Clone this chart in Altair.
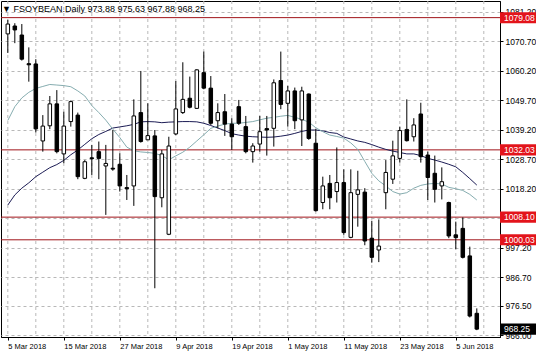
import altair as alt
import pandas as pd

# ---- data ----
opens = [1073.3, 1076.1, 1072.9, 1062.7, 1062.6, 1035.2, 1040.6, 1048.4, 1030.6, 1042.1,
         1044.4, 1021.9, 1029.2, 1031.4, 1026.3, 1025.5, 1026.9, 1018.6, 1019.2, 1045.3,
         1035.6, 1037.0, 1015.0, 1002.0, 1037.7, 1045.3, 1050.4, 1046.8, 1059.5, 1054.0,
         1042.4, 1045.6, 1041.2, 1047.4, 1040.3, 1031.4, 1034.1, 1039.6, 1039.7, 1056.7,
         1048.6, 1053.0, 1042.7, 1051.9, 1034.4, 1013.3, 1020.1, 1017.2, 1020.4, 1000.9,
         1016.2, 1017.0, 1000.6, 996.4, 1016.8, 1021.6, 1029.0, 1039.3, 1036.7, 1044.8,
         1030.2, 1023.7, 1019.2, 1013.3, 1001.8, 1004.1, 994.3, 973.88]
highs = [1078.3, 1077.1, 1076.8, 1068.5, 1064.3, 1044.4, 1051.2, 1053.3, 1045.6, 1049.6,
         1045.3, 1028.4, 1033.8, 1035.0, 1033.8, 1039.1, 1030.8, 1023.1, 1050.0, 1060.1,
         1048.6, 1039.1, 1032.0, 1036.7, 1056.5, 1063.2, 1058.1, 1060.7, 1067.0, 1058.3,
         1048.6, 1051.9, 1043.3, 1049.8, 1044.1, 1034.4, 1044.1, 1044.1, 1057.1, 1067.0,
         1054.8, 1054.2, 1054.5, 1052.1, 1039.4, 1022.5, 1023.1, 1032.9, 1025.1, 1025.1,
         1024.6, 1018.4, 1006.8, 1007.3, 1028.4, 1035.3, 1040.3, 1050.0, 1043.3, 1048.8,
         1031.4, 1030.0, 1025.8, 1013.6, 1006.5, 1008.0, 997.6, 975.63]
lows = [1066.5, 1070.0, 1063.8, 1056.3, 1038.2, 1031.4, 1039.4, 1030.8, 1027.3, 1040.3,
        1021.6, 1021.6, 1023.1, 1021.6, 1008.9, 1024.6, 1017.2, 1014.2, 1012.1, 1034.6,
        1035.6, 982.8, 1011.6, 1001.7, 1037.3, 1044.8, 1046.8, 1046.6, 1053.6, 1040.9,
        1039.7, 1037.0, 1032.0, 1040.9, 1030.8, 1027.5, 1031.4, 1030.0, 1033.2, 1046.5,
        1040.3, 1039.4, 1033.4, 1035.6, 1010.1, 1010.9, 1010.9, 1013.3, 1001.8, 1000.6,
        1004.7, 998.1, 991.9, 992.1, 1010.9, 1019.9, 1027.5, 1035.0, 1035.0, 1027.5,
        1014.2, 1013.3, 1014.4, 1000.6, 996.7, 993.4, 972.4, 967.88]
closes = [1076.8, 1074.7, 1064.3, 1062.3, 1039.5, 1040.5, 1048.4, 1031.4, 1040.5, 1049.2,
          1022.5, 1027.8, 1028.9, 1029.0, 1027.2, 1025.2, 1019.2, 1018.2, 1044.1, 1035.0,
          1037.1, 1015.4, 1030.6, 1033.4, 1046.6, 1050.0, 1047.2, 1060.5, 1054.0, 1041.5,
          1045.3, 1041.2, 1036.7, 1041.5, 1031.4, 1033.4, 1038.5, 1039.1, 1055.9, 1048.2,
          1053.0, 1042.4, 1053.0, 1036.1, 1010.4, 1019.2, 1015.0, 1020.4, 1002.6, 1016.8,
          1017.8, 999.6, 993.8, 997.8, 1024.0, 1029.9, 1038.9, 1035.3, 1040.9, 1029.6,
          1022.2, 1018.0, 1020.7, 1001.4, 1000.8, 993.8, 972.9, 968.25]
ma_fast = [1042.5, 1047.4, 1050.5, 1052.5, 1053.9, 1054.6, 1055.3, 1055.1, 1054.9, 1054.5,
           1053.0, 1051.2, 1047.8, 1045.3, 1042.6, 1039.4, 1036.4, 1033.0, 1031.7, 1031.3,
           1031.1, 1030.8, 1030.0, 1028.5, 1029.9, 1031.2, 1033.0, 1035.2, 1037.4, 1039.7,
           1040.5, 1041.2, 1041.5, 1041.5, 1041.8, 1042.1, 1042.7, 1043.3, 1043.6, 1044.0,
           1044.3, 1043.6, 1042.9, 1041.9, 1039.9, 1038.5, 1037.3, 1036.8, 1036.2, 1034.5,
           1032.2, 1027.9, 1023.7, 1021.0, 1019.2, 1017.2, 1016.3, 1016.8, 1018.4, 1019.4,
           1019.9, 1020.1, 1019.9, 1018.7, 1018.2, 1017.6, 1016.2, 1014.2]
ma_slow = [1012.4, 1016.0, 1018.4, 1020.3, 1022.5, 1024.1, 1025.7, 1026.8, 1028.3, 1030.3,
           1032.0, 1034.0, 1036.0, 1037.5, 1038.6, 1039.8, 1040.2, 1040.6, 1041.1, 1042.0,
           1042.1, 1042.0, 1041.7, 1041.9, 1042.0, 1042.1, 1042.1, 1042.0, 1041.5, 1040.7,
           1039.8, 1038.9, 1037.8, 1037.3, 1036.9, 1036.7, 1036.6, 1036.5, 1036.6, 1036.9,
           1037.3, 1037.9, 1038.6, 1039.1, 1039.1, 1038.8, 1038.2, 1037.9, 1036.6, 1035.9,
           1035.2, 1034.7, 1033.9, 1033.0, 1032.2, 1031.6, 1031.1, 1030.6, 1030.6, 1030.0,
           1029.0, 1028.4, 1027.7, 1026.9, 1026.0, 1024.0, 1021.8, 1019.5]

level_prices = [1079.08, 1032.03, 1008.10, 1000.03]
level_labels = ["1079.08", "1032.03", "1008.10", "1000.03"]
last_price = [968.25]
last_label = ["968.25"]
y_ticks = [966.00, 976.50, 986.70, 997.20, 1007.70, 1018.20, 1028.70, 1039.20,
           1049.70, 1060.20, 1070.70, 1081.20]
x_label_idx = [0, 8, 16, 24, 32, 40, 48, 56, 64]
x_labels = ["5 Mar 2018", "15 Mar 2018", "27 Mar 2018", "9 Apr 2018", "19 Apr 2018",
            "1 May 2018", "11 May 2018", "23 May 2018", "5 Jun 2018"]
x_grid_idx = [0, 4, 8, 12, 16, 20, 24, 28, 32, 36, 40, 44, 48, 52, 56, 60, 64, 68]
header = "\u25bc FSOYBEAN.Daily  973.88 975.63 967.88 968.25"

FONT = "Liberation Sans"

n = len(opens)
df = pd.DataFrame({"i": list(range(n)), "open": opens, "high": highs, "low": lows,
                   "close": closes, "fast": ma_fast, "slow": ma_slow})
df["top"] = df[["open", "close"]].max(axis=1)
df["bot"] = df[["open", "close"]].min(axis=1)
df["dir"] = ["up" if c >= o else "down" for o, c in zip(opens, closes)]

levels = pd.DataFrame({"p": level_prices, "lab": level_labels})
last = pd.DataFrame({"p": last_price, "lab": last_label})
grid = pd.DataFrame({"g": x_grid_idx})

xs = alt.Scale(domain=[-0.26, 69.6], nice=False, zero=False)
ys = alt.Scale(domain=[965.45, 1085.0], nice=False, zero=False)

label_arr = "[" + ",".join("'%s'" % s for s in x_labels) + "]"
xaxis = alt.Axis(values=x_label_idx, labelExpr=label_arr + "[round(datum.value/8)]",
                 title=None, grid=False, labelAlign="left", labelFont=FONT,
                 labelFontSize=7.5, labelColor="black", tickSize=3, tickColor="black",
                 labelPadding=2, labelOverlap=False, labelFlush=False,
                 domainColor="black")
yaxis = alt.Axis(orient="right", values=y_ticks, format=".2f", title=None,
                 labelFont=FONT, labelFontSize=8.5, labelColor="black", tickSize=3,
                 tickColor="black", domainColor="black", labelPadding=2,
                 grid=True, gridColor="#b8b8b8", gridDash=[3, 3],
                 labelOverlap=False, labelFlush=False, labelBound=False)


def X(f):
    return alt.X(f, type="quantitative", scale=xs, axis=xaxis)


def Y(f):
    return alt.Y(f, type="quantitative", scale=ys, axis=yaxis)


vgrid = alt.Chart(grid).mark_rule(color="#b8b8b8", strokeDash=[3, 3], strokeWidth=1).encode(
    x=X("g"))

base = alt.Chart(df)
wicks = base.mark_rule(color="black", strokeWidth=1).encode(x=X("i"), y=Y("low"), y2="high")
bodies = base.mark_bar(size=3.5, stroke="black", strokeWidth=1).encode(
    x=X("i"), y=Y("bot"), y2="top",
    color=alt.Color("dir:N", scale=alt.Scale(domain=["up", "down"], range=["white", "black"]),
                    legend=None))
fast_line = base.mark_line(color="#86adb0", strokeWidth=1).encode(x=X("i"), y=Y("fast"))
slow_line = base.mark_line(color="#1c1c55", strokeWidth=1).encode(x=X("i"), y=Y("slow"))

lvl = alt.Chart(levels)
lvl_rules = lvl.mark_rule(color="#a0141a", strokeWidth=1).encode(y=Y("p"))
lvl_boxes = lvl.mark_rect(color="#e3141b").transform_calculate(
    lo="datum.p - 1.96", hi="datum.p + 1.96").encode(
    x=alt.value(499), x2=alt.value(535), y=Y("lo:Q"), y2="hi:Q")
lvl_text = lvl.mark_text(align="left", baseline="middle", color="white", font=FONT,
                         fontSize=8.5).encode(x=alt.value(503), y=Y("p"), text="lab:N")

lst = alt.Chart(last)
last_box = lst.mark_rect(color="black").transform_calculate(
    lo="datum.p - 1.96", hi="datum.p + 1.96").encode(
    x=alt.value(499), x2=alt.value(535), y=Y("lo:Q"), y2="hi:Q")
last_text = lst.mark_text(align="left", baseline="middle", color="white", font=FONT,
                          fontSize=8.5).encode(x=alt.value(503), y=Y("p"), text="lab:N")

head = alt.Chart(pd.DataFrame({"t": [header]})).mark_text(
    align="left", baseline="middle", color="black", font=FONT, fontSize=9).encode(
    x=alt.value(1), y=alt.value(8), text="t:N")

chart = alt.layer(vgrid, lvl_rules, slow_line, fast_line, wicks, bodies,
                  lvl_boxes, lvl_text, last_box, last_text, head).properties(
    width=499, height=336,
    autosize=alt.AutoSizeParams(type="none"),
    padding={"left": 1, "top": 1, "right": 36, "bottom": 20},
    background="white",
).configure_view(stroke="black", strokeWidth=1)

chart.save("out.html", embed_options={"renderer": "svg", "actions": False})
